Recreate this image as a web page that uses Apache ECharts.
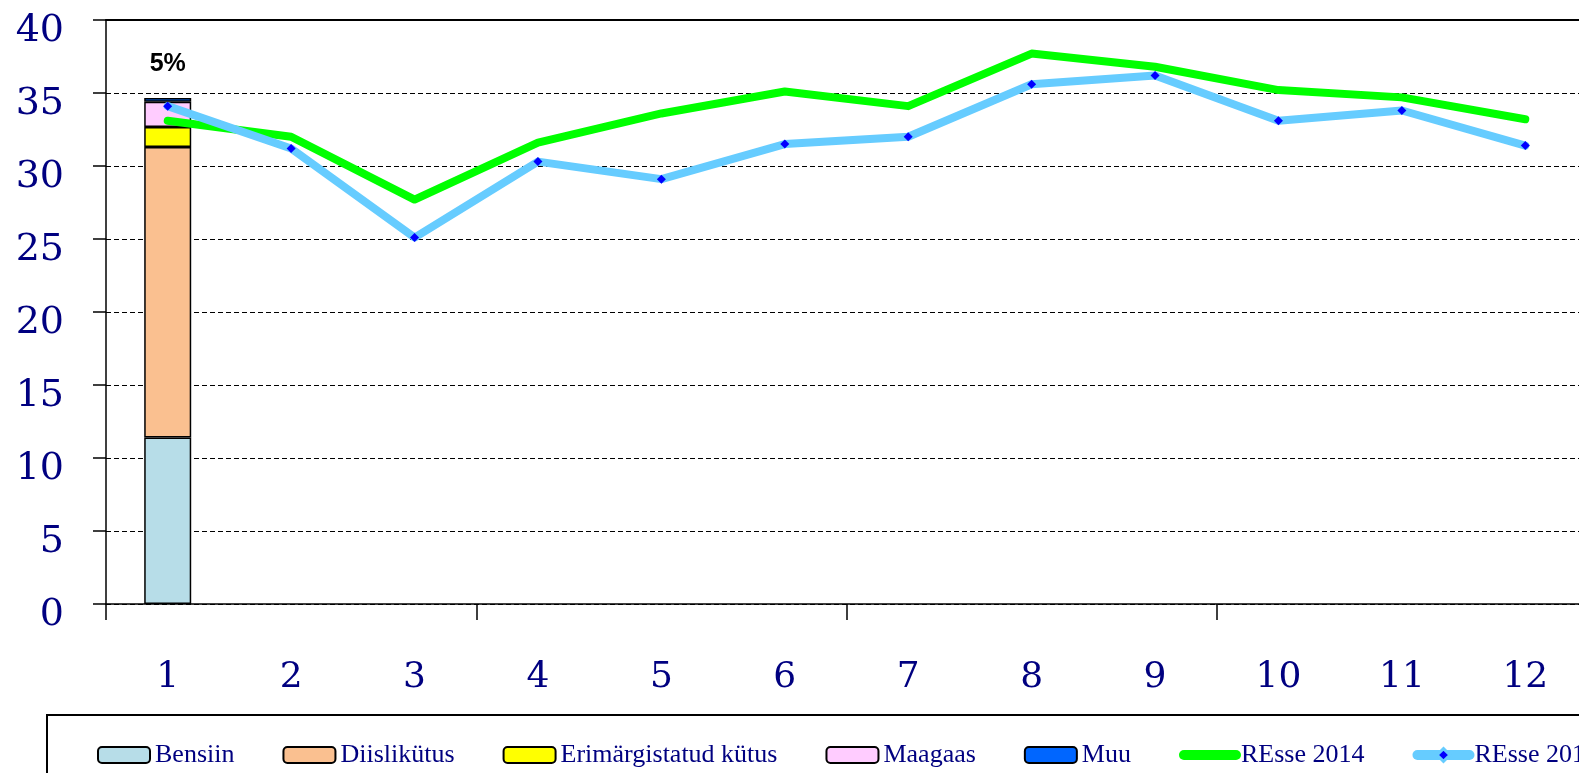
<!DOCTYPE html>
<html>
<head>
<meta charset="utf-8">
<script src="https://cdn.jsdelivr.net/npm/echarts@6/dist/echarts.min.js"></script>
<style>html,body{margin:0;padding:0;background:#fff;}#c{width:1579px;height:773px;}</style>
</head>
<body>
<div id="c"></div>
<script>
const categories = ['1','2','3','4','5','6','7','8','9','10','11','12'];
const bensiin = [11.4, null, null, null, null, null, null, null, null, null, null, null];
const diislikytus = [19.9, null, null, null, null, null, null, null, null, null, null, null];
const erimargistatud = [1.37, null, null, null, null, null, null, null, null, null, null, null];
const maagaas = [1.73, null, null, null, null, null, null, null, null, null, null, null];
const muu = [0.26, null, null, null, null, null, null, null, null, null, null, null];
const resse2014 = [33.1, 32.0, 27.7, 31.6, 33.6, 35.1, 34.1, 37.7, 36.8, 35.2, 34.7, 33.2];
const resse2015 = [34.1, 31.2, 25.1, 30.3, 29.1, 31.5, 32.0, 35.6, 36.2, 33.1, 33.8, 31.4];
const barLabels = ['5%'];
const yTicks = [0, 40, 5];

const navy = '#000080';
const chart = echarts.init(document.getElementById('c'));
const barBase = (name, data, color) => ({
  name, type: 'bar', stack: 'fuel', data, barWidth: 47,
  itemStyle: { color, borderColor: '#000', borderWidth: 1.5 },
  z: 2
});
const muuSeries = barBase('Muu', muu, '#0066ff');
muuSeries.label = {
  show: true, position: 'top', distance: 21,
  formatter: p => barLabels[p.dataIndex] || '',
  fontFamily: 'Liberation Sans', fontWeight: 'bold', fontSize: 25, color: '#000'
};
chart.setOption({
  animation: false,
  grid: { left: 106, width: 1481, top: 20, bottom: 169, outerBoundsMode: 'none', containLabel: false },
  legend: {
    left: 92, top: 737, width: 1800, itemWidth: 52, itemHeight: 16, itemGap: 48,
    textStyle: { fontFamily: 'Liberation Serif', fontSize: 26, color: navy },
    lineStyle: { width: 10, cap: 'round' },
    data: ['Bensiin','Diislikütus','Erimärgistatud kütus','Maagaas','Muu',
      { name: 'REsse 2014', itemStyle: { opacity: 0 } },
      { name: 'REsse 2015', itemStyle: { color: '#0000ff', borderColor: '#66ccff', borderWidth: 3 } }]
  },
  graphic: [{
    type: 'rect', shape: { x: 47, y: 715, width: 1600, height: 120 },
    style: { fill: 'none', stroke: '#000', lineWidth: 2 }, z: -1
  }],
  xAxis: [{
    type: 'category', data: categories, boundaryGap: true,
    axisLine: { lineStyle: { color: '#000', width: 1.5 } },
    axisTick: { show: true, length: 16, interval: (i) => i % 3 === 0, lineStyle: { color: '#000', width: 1.5 } },
    axisLabel: { interval: 0, margin: 56, fontFamily: 'DejaVu Serif', fontSize: 36, color: navy }
  }, {
    type: 'category', data: categories, position: 'top',
    axisLine: { show: true, lineStyle: { color: '#000', width: 2 } },
    axisTick: { show: false }, axisLabel: { show: false }
  }],
  yAxis: {
    type: 'value', min: yTicks[0], max: yTicks[1], interval: yTicks[2],
    axisLine: { show: true, lineStyle: { color: '#000', width: 1.5 } },
    axisTick: { show: true, length: 13, lineStyle: { color: '#000', width: 1.5 } },
    splitLine: { show: true, lineStyle: { color: '#000', type: [5, 3], width: 1.2 } },
    axisLabel: { margin: 42, fontFamily: 'DejaVu Serif', fontSize: 38, color: navy,
      verticalAlign: 'top', lineHeight: 22 }
  },
  series: [
    barBase('Bensiin', bensiin, '#b7dde8'),
    barBase('Diislikütus', diislikytus, '#fac090'),
    barBase('Erimärgistatud kütus', erimargistatud, '#ffff00'),
    barBase('Maagaas', maagaas, '#ffccff'),
    muuSeries,
    {
      name: 'REsse 2014', type: 'line', data: resse2014, symbol: 'none',
      lineStyle: { color: '#00ff00', width: 8, cap: 'round', join: 'round' },
      itemStyle: { color: '#00ff00' }, z: 3
    },
    {
      name: 'REsse 2015', type: 'line', data: resse2015, symbol: 'diamond', symbolSize: 9,
      lineStyle: { color: '#66ccff', width: 8, cap: 'round', join: 'round' },
      itemStyle: { color: '#0000ff' }, z: 4
    }
  ]
});
</script>
</body>
</html>
